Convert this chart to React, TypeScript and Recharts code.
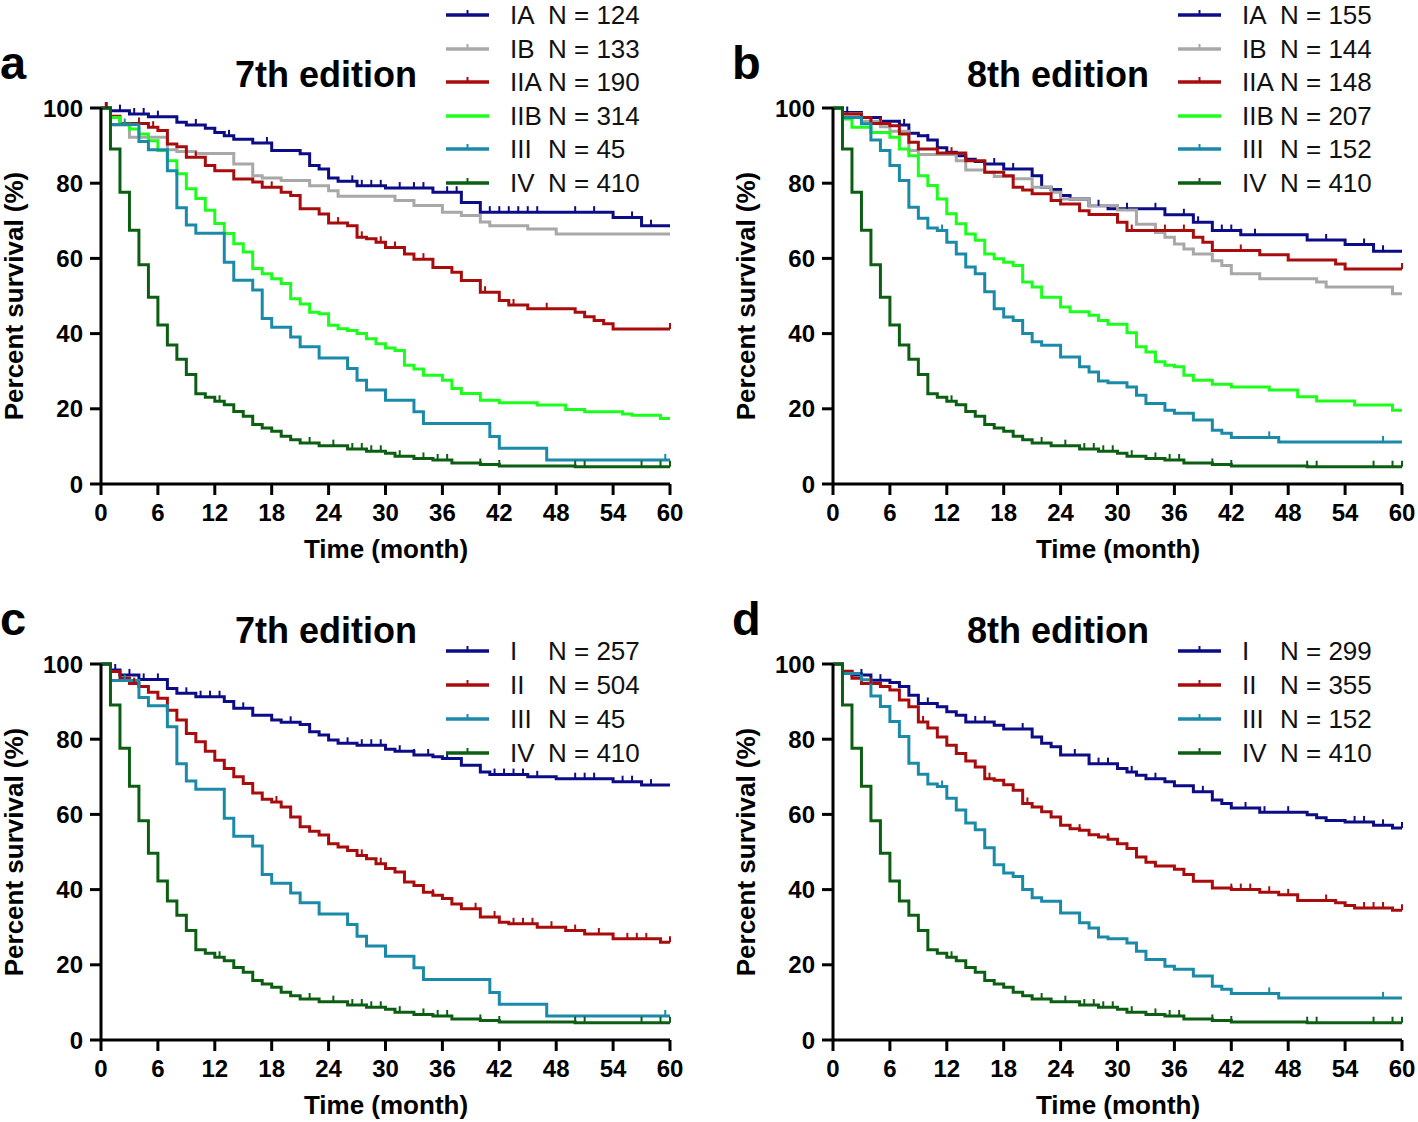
import React from 'react';
import { LineChart, Line, XAxis, YAxis, Legend } from 'recharts';

type Pt = [number, number];

const monthTicks = [0, 6, 12, 18, 24, 30, 36, 42, 48, 54, 60];
const percentTicks = [0, 20, 40, 60, 80, 100];

// ---- Stage IV (same cohort, N = 410, in every panel) ----
const stageIV: Pt[] = [[0,100],[1,89.1],[2,77.6],[3,67.5],[4,58.3],[5,49.7],[6,42.3],[7,37],[8,33.2],[9,29.1],[10,24],[11,23.1],[12,22],[13,21.1],[14,19.3],[15,18],[16,15.8],[17,14.9],[18,14],[19,12.7],[20,11.8],[21,10.9],[23,10.2],[26,9.3],[28,8.7],[30,8.2],[31,7.4],[33,6.8],[35,6.4],[37,5.6],[40,5.2],[42,4.8],[50,4.6]];
const stageIVCensor = [12.5, 22, 24.5, 26.5, 27.5, 28.5, 29.5, 31.5, 34, 35.5, 36.5, 40, 42, 50, 51, 57, 59, 60];

// ---- Panel a: 7th edition substages ----
const a7IA: Pt[] = [[0,100],[1,99.3],[3,98.4],[5,97.7],[8,96.2],[9,95.5],[11,94.6],[12,93.5],[13,92.6],[14,91.7],[16,90.7],[18,88.7],[21,87.8],[22,84.7],[23,83.8],[24,81.4],[25,80.5],[27,79.3],[30,78.7],[35,77.6],[38,74.9],[40,72.3],[54,70.9],[57,68.7]];
const a7IACensor = [0.6, 2, 3.5, 4.5, 6, 10, 13.5, 17.5, 26.5, 27.5, 28.5, 29.5, 31.5, 33, 34, 36.5, 37.5, 41, 42, 43, 44, 45, 46, 50, 52, 56, 58];
const a7IB: Pt[] = [[0,100],[1,95.5],[3,92.2],[7,88.9],[8,88.4],[10,87.9],[14,85.1],[16,82],[17,81.4],[19,80.7],[22,79.3],[24,78],[25,76.5],[31,75.4],[33,74.1],[36,72.3],[38,71.4],[40,69.7],[41,68.7],[45,67.8],[48,66.5]];
const a7IBCensor: number[] = [];
const a7IIA: Pt[] = [[0,100],[1,97.8],[2,95.9],[5,94.9],[6,94],[7,90.4],[8,89.7],[9,86.9],[11,84.7],[12,83.3],[14,81.1],[16,80.3],[17,78.9],[19,77.6],[20,76.7],[21,73.2],[23,71.8],[24,69.4],[26,68.7],[27,65.6],[28,65.2],[29,64.3],[30,62.9],[32,61.2],[33,59.8],[35,57.6],[37,56.3],[38,54.1],[40,51],[42,48.8],[43,47.6],[45,46.6],[50,45.7],[51,44.5],[52,43.5],[53,42.6],[54,41.2]];
const a7IIACensor = [0.5, 4, 5.5, 10, 18, 25, 27.5, 29.5, 31, 34, 40.5, 43.5, 47, 60];
const a7IIB: Pt[] = [[0,100],[1,97.5],[2,95.7],[3,94.4],[4,93.1],[5,91.3],[6,88.7],[7,86],[8,82.5],[9,78.5],[10,75.9],[11,72.8],[12,69.3],[13,66.6],[14,63.9],[15,61.7],[16,57.3],[17,55.9],[18,54.6],[19,53.3],[20,49.3],[21,47.9],[22,45.7],[23,45.3],[24,42.2],[25,41.3],[26,40.8],[27,40],[28,38.6],[29,37.3],[30,36.2],[31,35.5],[32,31.6],[33,30.6],[34,28.9],[36,27.6],[37,25.4],[38,24.1],[40,22.3],[42,21.6],[46,21],[49,19.8],[51,19.2],[55,18.6],[56,18.3],[59,17.4]];
const a7IIBCensor: number[] = [];
const a7III: Pt[] = [[0,100],[1,95.6],[4,91.1],[5,88.9],[7,83.3],[8,73.5],[9,68.9],[10,66.7],[13,59],[14,54.2],[16,51.6],[17,44],[18,41.7],[20,39.1],[21,36.5],[23,33.5],[26,30.7],[27,27.6],[28,25],[30,22.3],[33,19.2],[34,16.1],[41,12.6],[42,9.5],[47,6.4]];
const a7IIICensor = [2.5, 59.5];

// ---- Panel b: 8th edition substages ----
const b8IA: Pt[] = [[0,100],[1,98.8],[3,97.5],[5,96.5],[7,95.5],[8,93.3],[9,92.6],[10,91.5],[11,89.4],[12,88.2],[13,87.3],[14,86.4],[15,85.8],[16,85.1],[18,83.8],[21,82],[22,78.9],[23,78.3],[24,76.7],[25,75.8],[27,74],[29,73.2],[35,71.6],[38,69.6],[40,67.4],[43,66.3],[50,64.9],[54,63.7],[57,61.9]];
const b8IACensor = [1.5, 7.5, 10, 17, 19, 28, 31, 34, 37, 38.5, 41, 42, 43, 44.5, 52, 56, 58];
const b8IB: Pt[] = [[0,100],[1,98.5],[3,96.5],[5,95],[6,93.8],[8,88.7],[9,87.6],[13,86],[14,83.5],[16,82.9],[17,81.8],[19,81.2],[21,78.9],[23,77.6],[24,75.8],[27,74.1],[30,72.9],[32,69.1],[34,66.9],[35,65.6],[36,63.8],[37,62.5],[38,61.2],[40,59.4],[41,58.1],[42,55.9],[45,54.6],[51,53.7],[52,52.4],[59,50.6]];
const b8IBCensor: number[] = [];
const b8IIA: Pt[] = [[0,100],[1,98.4],[3,97.5],[4,95.9],[6,95.3],[7,93.1],[8,90.9],[9,89.1],[11,88],[14,86],[16,82.9],[18,82],[19,78.9],[20,78.2],[21,77.2],[23,75.4],[24,74.5],[26,72.7],[27,71.7],[30,69.6],[31,67.4],[38,65.6],[39,64.3],[40,62.1],[45,61],[48,59.6],[53,58.5],[54,57.2]];
const b8IIACensor = [5, 12.5, 31.5, 35, 37, 43, 60];
const b8IIB: Pt[] = [[0,100],[1,97.1],[2,94.9],[4,93.5],[6,92.2],[7,89.1],[8,87.3],[9,82],[10,79.4],[11,75.8],[12,71.9],[13,69.2],[14,66.5],[15,64.8],[16,61.2],[17,59.9],[18,59],[19,58.1],[20,53.7],[21,52.4],[22,49.7],[24,47.1],[25,45.8],[27,44.9],[28,43.5],[29,42.5],[31,40.2],[32,36.5],[33,35.1],[34,32.5],[35,31.6],[36,31.2],[37,28.9],[38,27.6],[40,26.5],[42,25.8],[46,25],[49,23.2],[51,22.1],[55,21],[59,19.6]];
const b8IIBCensor: number[] = [];
const b8III: Pt[] = [[0,100],[1,97.5],[3,95.8],[4,91.5],[5,88.7],[6,84.7],[7,80.7],[8,73.6],[9,70.7],[10,68.1],[11,67.4],[12,64.3],[13,61.2],[14,57.7],[15,55.9],[16,51.1],[17,46.6],[18,44.4],[19,43.5],[20,40],[21,37.8],[22,36.9],[24,33.8],[26,31.2],[27,29.8],[28,27.4],[29,26.9],[31,25.8],[32,23.6],[33,21.4],[35,19.6],[36,18.8],[38,17],[40,14.3],[41,13.5],[42,12.4],[47,11.2]];
const b8IIICensor = [11.5, 46, 58];

// ---- Panel c: 7th edition stages ----
const c7I: Pt[] = [[0,100],[1,98.4],[2,97.1],[4,95.9],[7,93.5],[8,92.2],[10,91.3],[13,90],[14,88.2],[16,86.4],[18,85.1],[19,84.5],[21,83.9],[22,82],[23,81.1],[24,79.8],[25,78.9],[27,78.4],[30,77.3],[31,76.8],[33,75.8],[35,75.3],[36,74.9],[38,73.1],[40,71.3],[41,70.6],[45,70],[48,69.5],[54,68.7],[57,67.8]];
const c7ICensor = [1.5, 3, 4.5, 6, 9, 10.5, 11.5, 12.5, 15, 20, 26, 27.5, 28.5, 29.5, 31.5, 33, 34.5, 36.5, 41.5, 42.5, 43.5, 44.5, 46, 50, 51, 52, 55, 56, 58];
const c7II: Pt[] = [[0,100],[1,98],[2,96.2],[3,94.8],[4,94],[5,92.5],[6,90.9],[7,87.7],[8,85.1],[9,81.5],[10,79.3],[11,76.8],[12,74.4],[13,72.2],[14,70],[15,68.2],[16,65.7],[17,64],[18,63.3],[19,62],[20,59.3],[21,56.7],[22,55.5],[23,54.5],[24,52.2],[25,51.3],[26,50.4],[27,49.1],[28,48.2],[29,46.9],[30,45.6],[31,44.7],[32,42],[33,41.1],[34,39.3],[35,38.5],[36,37.6],[37,36.2],[38,34.9],[40,32.7],[42,31.3],[43,30.9],[46,30],[49,29.1],[51,28.2],[54,26.9],[59,26]];
const c7IICensor = [3.5, 13, 18.5, 24, 27.5, 29.5, 35, 39.5, 41.5, 43.5, 44.5, 45.5, 47.5, 50, 52.5, 55.5, 56.5, 57.5, 60];

// ---- Panel d: 8th edition stages ----
const d8I: Pt[] = [[0,100],[1,98.1],[2,97.1],[4,95.7],[6,95.1],[7,94],[8,91.7],[9,89.5],[11,88.6],[12,87.3],[13,86.4],[14,84.6],[17,83.7],[18,82.7],[21,80.6],[22,78.9],[23,78],[24,75.8],[27,73.5],[30,72.2],[31,71.3],[32,70.4],[33,69.5],[35,68.7],[36,67.6],[38,66],[40,63.8],[41,62.9],[42,61.7],[45,60.6],[50,59.9],[51,59.1],[52,58.4],[54,58],[57,57.1],[59,56.4]];
const d8ICensor = [3, 5, 10, 15, 16, 20, 25.5, 28, 29, 31.5, 34, 39, 43.5, 45.5, 48, 55, 56, 58, 60];
const d8II: Pt[] = [[0,100],[1,98],[2,96.2],[3,94.8],[5,94],[6,93.1],[7,90.4],[8,88.6],[9,84.6],[10,83],[11,80.6],[12,78.4],[13,76.2],[14,74.2],[15,72.6],[16,69.5],[17,69.1],[18,67.9],[19,66.4],[20,62.9],[21,62],[22,60.7],[23,59.3],[24,57.1],[25,56.2],[26,55.8],[27,54.6],[28,54],[29,53.4],[30,52.2],[31,50.9],[32,48.7],[33,47.3],[34,46.3],[36,45.4],[37,44],[38,42.2],[40,40.4],[42,40],[45,39.3],[47,38.6],[49,37.1],[53,36.5],[54,35.8],[55,35.1],[59,34.5]];
const d8IICensor = [4, 9.5, 16.5, 20.5, 26, 29, 31, 42, 43, 44, 46, 48, 52, 56, 57, 58, 60];

const NAVY = '#0c0c86';
const GRAY = '#a8a8a8';
const RED = '#a80c0c';
const LIME = '#1cff1c';
const TEAL = '#1b8aa9';
const DKGREEN = '#0c5f12';
const FONT = "'Liberation Sans', Arial, Helvetica, sans-serif";

type Row = { t: number; s: number; c: boolean };
type Series = { label: string; n: number; color: string; tick: boolean; data: Row[] };

function km(steps: Pt[], censor: number[]): Row[] {
  const rows: Row[] = steps.map(([t, s]) => ({ t, s, c: false }));
  censor.forEach((ct) => {
    let s = 100;
    steps.forEach(([t, v]) => { if (t <= ct) s = v; });
    rows.push({ t: ct, s, c: true });
  });
  rows.sort((p, q) => (p.t - q.t) || (Number(p.c) - Number(q.c)));
  const last = rows[rows.length - 1];
  if (last.t < 60) rows.push({ t: 60, s: last.s, c: false });
  return rows;
}

const mk = (label: string, n: number, color: string, tick: boolean, steps: Pt[], censor: number[]): Series =>
  ({ label, n, color, tick, data: km(steps, censor) });

type PanelDef = {
  letter: string; title: string; left: number; top: number;
  legendTop: number; legendFirst: number; legendStep: number; series: Series[];
};

const panels: PanelDef[] = [
  { letter: 'a', title: '7th edition', left: 0, top: 90, legendTop: -90, legendFirst: 15, legendStep: 33.5, series: [
    mk('IA', 124, NAVY, true, a7IA, a7IACensor),
    mk('IB', 133, GRAY, true, a7IB, a7IBCensor),
    mk('IIA', 190, RED, true, a7IIA, a7IIACensor),
    mk('IIB', 314, LIME, false, a7IIB, a7IIBCensor),
    mk('III', 45, TEAL, true, a7III, a7IIICensor),
    mk('IV', 410, DKGREEN, true, stageIV, stageIVCensor),
  ] },
  { letter: 'b', title: '8th edition', left: 732, top: 90, legendTop: -90, legendFirst: 15, legendStep: 33.5, series: [
    mk('IA', 155, NAVY, true, b8IA, b8IACensor),
    mk('IB', 144, GRAY, true, b8IB, b8IBCensor),
    mk('IIA', 148, RED, true, b8IIA, b8IIACensor),
    mk('IIB', 207, LIME, false, b8IIB, b8IIBCensor),
    mk('III', 152, TEAL, true, b8III, b8IIICensor),
    mk('IV', 410, DKGREEN, true, stageIV, stageIVCensor),
  ] },
  { letter: 'c', title: '7th edition', left: 0, top: 646, legendTop: -12, legendFirst: 17, legendStep: 33.9, series: [
    mk('I', 257, NAVY, true, c7I, c7ICensor),
    mk('II', 504, RED, true, c7II, c7IICensor),
    mk('III', 45, TEAL, true, a7III, a7IIICensor),
    mk('IV', 410, DKGREEN, true, stageIV, stageIVCensor),
  ] },
  { letter: 'd', title: '8th edition', left: 732, top: 646, legendTop: -12, legendFirst: 17, legendStep: 33.9, series: [
    mk('I', 299, NAVY, true, d8I, d8ICensor),
    mk('II', 355, RED, true, d8II, d8IICensor),
    mk('III', 152, TEAL, true, b8III, b8IIICensor),
    mk('IV', 410, DKGREEN, true, stageIV, stageIVCensor),
  ] },
];

const makeTick = (color: string) => (props: any) => {
  const { cx, cy, payload, index } = props;
  if (!payload || !payload.c || cx == null || cy == null) return <g key={`n-${index}`} />;
  return <line key={`c-${index}`} x1={cx} x2={cx} y1={cy - 6} y2={cy} stroke={color} strokeWidth={2} />;
};

function LegendBox({ p }: { p: PanelDef }) {
  const h = p.legendFirst + p.legendStep * (p.series.length - 1) + 17;
  return (
    <div style={{ position: 'relative', width: 240, height: h, fontFamily: FONT, fontSize: 26, color: '#111' }}>
      {p.series.map((s, i) => {
        const cy = p.legendFirst + p.legendStep * i;
        return (
          <div key={s.label} style={{ position: 'absolute', left: 0, top: cy - 15, width: 240, height: 30 }}>
            <svg width={44} height={30} style={{ position: 'absolute', left: 0, top: 0 }}>
              <line x1={0} x2={43} y1={15} y2={15} stroke={s.color} strokeWidth={3.5} />
              {s.tick && <line x1={21.5} x2={21.5} y1={10} y2={15} stroke={s.color} strokeWidth={2} />}
            </svg>
            <span style={{ position: 'absolute', left: 64, top: 2, lineHeight: '26px' }}>{s.label}</span>
            <span style={{ position: 'absolute', left: 102, top: 2, lineHeight: '26px', whiteSpace: 'nowrap' }}>{`N = ${s.n}`}</span>
          </div>
        );
      })}
    </div>
  );
}

const tickStyle = { fill: '#000', fontSize: 24, fontWeight: 700, fontFamily: FONT };

function Panel({ p }: { p: PanelDef }) {
  return (
    <div style={{ position: 'absolute', left: p.left, top: p.top, width: 700, height: 470 }}>
      <LineChart width={700} height={470} margin={{ top: 18, right: 30, bottom: 0, left: 0 }}>
        <XAxis
          dataKey="t"
          type="number"
          domain={[0, 60]}
          ticks={monthTicks}
          interval={0}
          allowDuplicatedCategory={false}
          height={76}
          tickSize={11}
          tickMargin={9}
          tick={tickStyle}
          tickLine={{ stroke: '#000', strokeWidth: 3 }}
          axisLine={{ stroke: '#000', strokeWidth: 3 }}
        />
        <YAxis
          type="number"
          domain={[0, 100]}
          ticks={percentTicks}
          interval={0}
          width={101}
          tickSize={11}
          tickMargin={7}
          tick={tickStyle}
          tickLine={{ stroke: '#000', strokeWidth: 3 }}
          axisLine={{ stroke: '#000', strokeWidth: 3 }}
        />
        <Legend
          layout="vertical"
          align="center"
          verticalAlign="middle"
          wrapperStyle={{ left: 446, top: p.legendTop, width: 240 }}
          content={() => <LegendBox p={p} />}
        />
        {p.series.map((s) => (
          <Line
            key={s.label}
            data={s.data}
            dataKey="s"
            name={s.label}
            type="stepAfter"
            stroke={s.color}
            strokeWidth={3}
            dot={makeTick(s.color)}
            activeDot={false}
            isAnimationActive={false}
          />
        ))}
      </LineChart>
    </div>
  );
}

export default function App() {
  return (
    <div style={{ position: 'absolute', left: 0, top: 0, width: 1418, height: 1122, background: '#fff', overflow: 'hidden' }}>
      {panels.map((p) => <Panel key={p.letter} p={p} />)}
      <svg width={1418} height={1122} style={{ position: 'absolute', left: 0, top: 0, pointerEvents: 'none' }}>
        {panels.map((p) => {
          const ox = p.left;
          const oy = p.top - 90;
          return (
            <g key={`t-${p.letter}`} fontFamily={FONT} fontWeight={700} fill="#000">
              <text x={ox + 0} y={oy + 79} fontSize={47}>{p.letter}</text>
              <text x={ox + 326} y={oy + 87} fontSize={36} textAnchor="middle">{p.title}</text>
              <text x={ox + 23} y={oy + 296} fontSize={26} textAnchor="middle" transform={`rotate(-90 ${ox + 23} ${oy + 296})`}>Percent survival (%)</text>
              <text x={ox + 386} y={oy + 558} fontSize={26} textAnchor="middle">Time (month)</text>
            </g>
          );
        })}
      </svg>
    </div>
  );
}
